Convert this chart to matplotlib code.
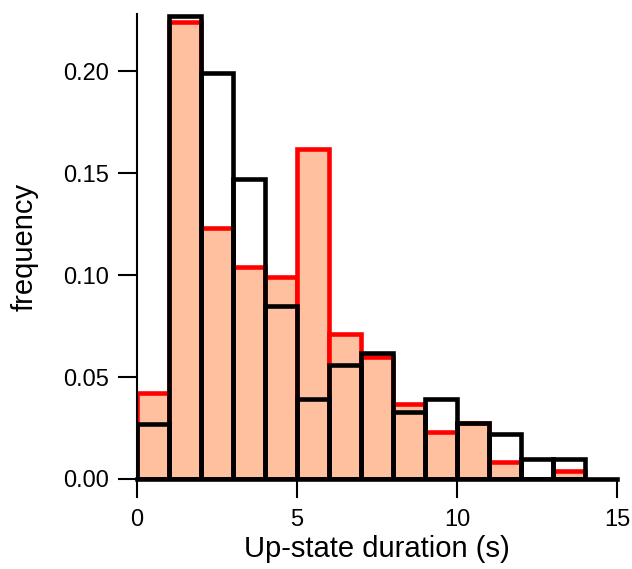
import numpy as np
import matplotlib
matplotlib.use("Agg")
from matplotlib import pyplot as plt

plt.rcParams['font.family'] = ['Liberation Sans', 'DejaVu Sans']

# left edges of the 1 s histogram bins and frequencies for the two conditions
bin_left = np.arange(0, 14, 1)
freq_red = [0.042, 0.224, 0.123, 0.104, 0.099, 0.162, 0.071, 0.060,
            0.037, 0.023, 0.0275, 0.0085, 0.0, 0.004]
freq_black = [0.027, 0.227, 0.199, 0.147, 0.085, 0.039, 0.056, 0.062,
              0.033, 0.039, 0.0275, 0.022, 0.010, 0.010]

xticks = [0, 5, 10, 15]
yticks = [0.00, 0.05, 0.10, 0.15, 0.20]

fig = plt.figure(figsize=(6.32, 5.69), dpi=100)
ax = fig.add_axes([0.2168, 0.1582, 0.7595, 0.8172])

ax.bar(bin_left, freq_red, width=1, align="edge", color="#FFC0A0",
       edgecolor="#FF0000", linewidth=3.3, zorder=2)
ax.bar(bin_left, freq_black, width=1, align="edge", fill=False,
       edgecolor="black", linewidth=3.3, zorder=3)

ax.set_xlim(0, 15)
ax.set_ylim(0, 0.228)
ax.set_xticks(xticks)
ax.set_yticks(yticks)
ax.set_yticklabels([f"{t:.2f}" for t in yticks])

for side in ("top", "right"):
    ax.spines[side].set_visible(False)
ax.spines["left"].set_linewidth(1.5)
ax.spines["bottom"].set_linewidth(3.3)
ax.spines["bottom"].set_zorder(4)

ax.tick_params(axis="y", direction="out", length=14, width=1.5,
               labelsize=17, colors="black", pad=6)
ax.tick_params(axis="x", direction="out", length=13.5, width=1.5,
               labelsize=17, colors="black", pad=8)

ax.set_xlabel("Up-state duration (s)", fontsize=21, labelpad=3)
ax.set_ylabel("frequency", fontsize=21, labelpad=18)

plt.savefig("out.png", dpi=100)
plt.close(fig)
